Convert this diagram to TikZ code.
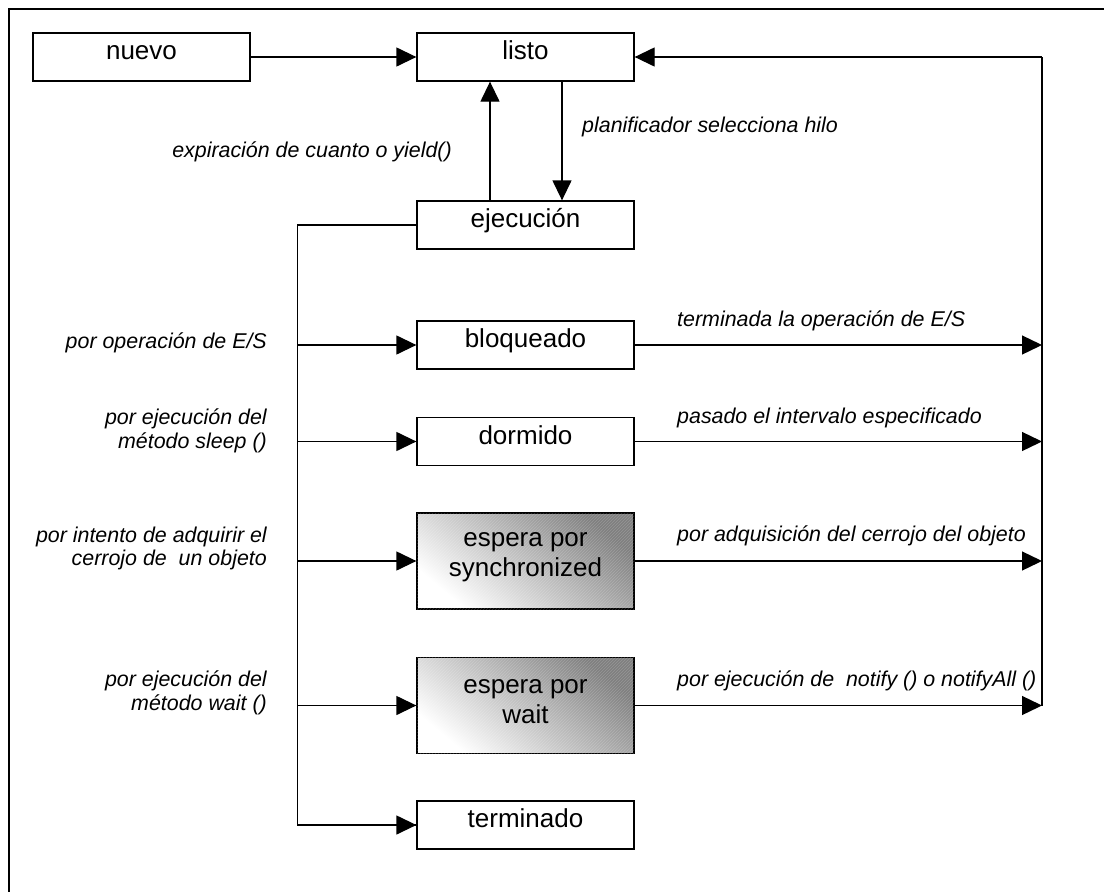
\documentclass[tikz,border=0pt]{standalone}
\usepackage{fontspec}
\setmainfont{Liberation Sans}
\usetikzlibrary{arrows.meta,patterns}
\begin{document}
\begin{tikzpicture}[x=1pt, y=-1pt,
  boxbase/.style={draw=black, line width=1.3pt, minimum width=217pt,
    inner sep=0pt, font=\fontsize{26}{30.6}\selectfont},
  state/.style={boxbase, minimum height=48pt, text height=18pt, text depth=13pt},
  waitstate/.style={boxbase, minimum height=96pt,
    bottom color=white, middle color=black!11, top color=black!50, shading angle=-40,
    postaction={pattern=north east lines, pattern color=white, opacity=0.18}},
  boxtext/.style={inner sep=0pt, align=center, font=\fontsize{26}{30.6}\selectfont},
  lbl/.style={font=\itshape\fontsize{21.4}{23.8}\selectfont, inner sep=0pt},
  arr/.style={line width=1.3pt, -{Triangle[length=20pt, width=19pt]}},
  wire/.style={line width=1.3pt},
  bus/.style={line width=2pt}]
  \useasboundingbox (0,0) rectangle (1104,892);

  % page frame (top and left edges)
  \draw[line width=2pt] (9,892) -- (9,9) -- (1104,9);

  % states
  \node[state] (nuevo)     at (141.5,57)   {nuevo};
  \node[state] (listo)     at (525.5,57)   {listo};
  \node[state] (ejec)      at (525.5,225)  {ejecución};
  \node[state] (bloq)      at (525.5,345)  {bloqueado};
  \node[state] (dorm)      at (525.5,441.5){dormido};
  \node[waitstate] (sync)  at (525.5,561)  {};
  \node[waitstate] (wait)  at (525.5,705.5){};
  \node[state] (term)      at (525.5,825)  {terminado};
  \node[boxtext] (synct) at ([yshift=4pt]sync.center) {espera por\\synchronized};
  \node[boxtext] (waitt) at ([yshift=4pt]wait.center) {espera por\\wait};

  % bus coordinates
  \coordinate (lb) at (297.7,225);
  \coordinate (rt) at (1042,57);
  \coordinate (r1) at (1042,345);
  \coordinate (r2) at (1042,441.5);
  \coordinate (r3) at (1042,561);
  \coordinate (r4) at (1042,705.5);

  % nuevo -> listo, scheduler loop
  \draw[arr] (nuevo) -- (listo);
  \draw[arr] ([xshift=-35.5pt]ejec.north) -- ([xshift=-35.5pt]listo.south);
  \draw[arr] ([xshift=36.5pt]listo.south) -- ([xshift=36.5pt]ejec.north);

  % left bus out of ejecución
  \draw[wire] (ejec.west) -- (lb) |- (term.west);
  \draw[arr] (term.west -| lb) -- (term.west);
  \draw[arr] (bloq.west -| lb) -- (bloq.west);
  \draw[arr] (dorm.west -| lb) -- (dorm.west);
  \draw[arr] (sync.west -| lb) -- (sync.west);
  \draw[arr] (wait.west -| lb) -- (wait.west);

  % right bus back to listo
  \draw[bus] (r4) -- (rt);
  \draw[arr] (rt) -- (listo.east);
  \draw[arr] (bloq.east) -- (r1);
  \draw[arr] (dorm.east) -- (r2);
  \draw[arr] (sync.east) -- (r3);
  \draw[arr] (wait.east) -- (r4);

  % transition labels
  \node[lbl, anchor=east] (lexp) at (452,152) {expiración de cuanto o yield()};
  \node[lbl, anchor=west] (lpla) at (582,127) {planificador selecciona hilo};
  \node[lbl, anchor=east] (les)  at (267,343) {por operación de E/S};
  \node[lbl, anchor=east, align=right] (lslp) at (267,431) {por ejecución del\\método sleep ()};
  \node[lbl, anchor=east, align=right] (lint) at (267,548.5) {por intento de adquirir el\\cerrojo de \ un objeto};
  \node[lbl, anchor=east, align=right] (lwt)  at (267,693) {por ejecución del\\método wait ()};
  \node[lbl, anchor=west] (lter) at (677,321) {terminada la operación de E/S};
  \node[lbl, anchor=west] (lpas) at (677,418) {pasado el intervalo especificado};
  \node[lbl, anchor=west] (ladq) at (677,536) {por adquisición del cerrojo del objeto};
  \node[lbl, anchor=west] (lnot) at (677,681) {por ejecución de \ notify () o notifyAll ()};
\end{tikzpicture}
\end{document}
